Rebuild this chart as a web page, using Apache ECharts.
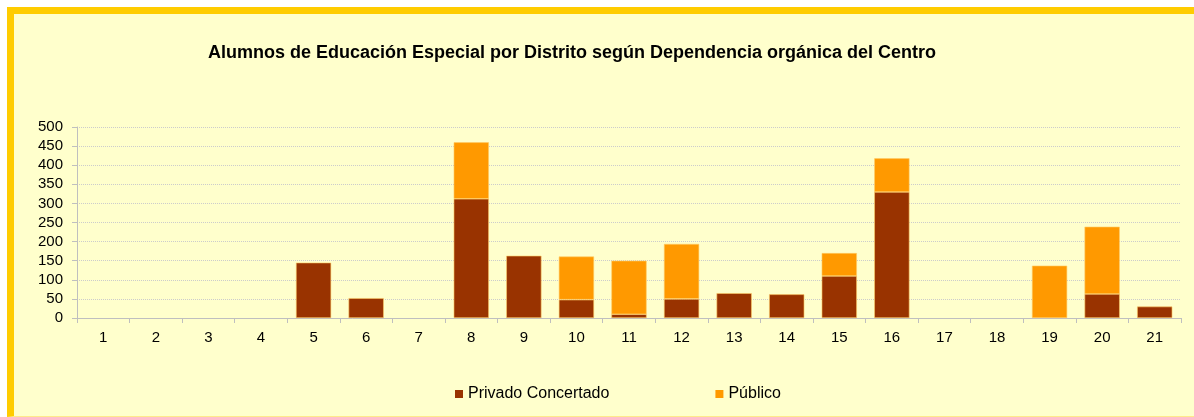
<!DOCTYPE html>
<html>
<head>
<meta charset="utf-8">
<script src="https://cdn.jsdelivr.net/npm/echarts@6/dist/echarts.min.js"></script>
<style>
html, body { margin: 0; padding: 0; background: #ffffff; }
#frame {
    position: absolute; left: 7px; top: 7px; width: 1180px; height: 402px;
    background: #FFFFCC; border-left: 7px solid #FFCC00; border-top: 7px solid #FFCC00;
    border-bottom: 1px solid #FFE98A;
}
#grafico { position: absolute; left: 0; top: 0; width: 1194px; height: 417px; }
</style>
</head>
<body>
<div id="frame"></div>
<div id="grafico"></div>
<script>
var distritos = ['1','2','3','4','5','6','7','8','9','10','11','12','13','14','15','16','17','18','19','20','21'];
var privado_concertado = [0, 0, 0, 0, 145, 52, 0, 312, 163, 48, 10, 50, 65, 62, 110, 330, 0, 0, 0, 63, 30];
var publico = [0, 0, 0, 0, 0, 0, 0, 148, 0, 113, 140, 144, 0, 0, 60, 88, 0, 0, 137, 176, 0];

var chart = echarts.init(document.getElementById('grafico'));

function serie(nombre, datos, color) {
    return {
        name: nombre,
        type: 'bar',
        stack: 'total',
        barCategoryGap: '33%',
        data: datos.map(function (v) { return v === 0 ? '-' : v; }),
        itemStyle: { color: color, borderColor: '#FFCC66', borderWidth: 0.6 }
    };
}

chart.setOption({
    animation: false,
    textStyle: { fontFamily: 'Liberation Sans, Arial, sans-serif' },
    title: {
        text: 'Alumnos de Educación Especial por Distrito según Dependencia orgánica del Centro',
        left: 567, textAlign: 'center', top: 39,
        textStyle: { fontSize: 18, fontWeight: 'bold', color: '#000000' }
    },
    legend: {
        left: 450, top: 381,
        itemWidth: 8, itemHeight: 8, itemGap: 106,
        icon: 'rect',
        itemStyle: { borderWidth: 0 },
        textStyle: { fontSize: 16, color: '#000000' },
        data: ['Privado Concertado', 'Público']
    },
    grid: { left: 77, right: 13, top: 127, bottom: 99 },
    xAxis: {
        type: 'category',
        data: distritos,
        axisLine: { lineStyle: { color: '#BFBFBF' } },
        axisTick: { show: true, length: 5, lineStyle: { color: '#BFBFBF' } },
        axisLabel: { fontSize: 15, color: '#000000', margin: 12 }
    },
    yAxis: {
        type: 'value',
        min: 0, max: 500, interval: 50,
        axisLine: { show: true, lineStyle: { color: '#BFBFBF' } },
        axisTick: { show: true, length: 5, lineStyle: { color: '#BFBFBF' } },
        axisLabel: { fontSize: 15, color: '#000000', margin: 14 },
        splitLine: { lineStyle: { color: '#CCCCCC', type: 'dotted', width: 1 } }
    },
    series: [
        serie('Privado Concertado', privado_concertado, '#993300'),
        serie('Público', publico, '#FF9900')
    ]
});
</script>
</body>
</html>
